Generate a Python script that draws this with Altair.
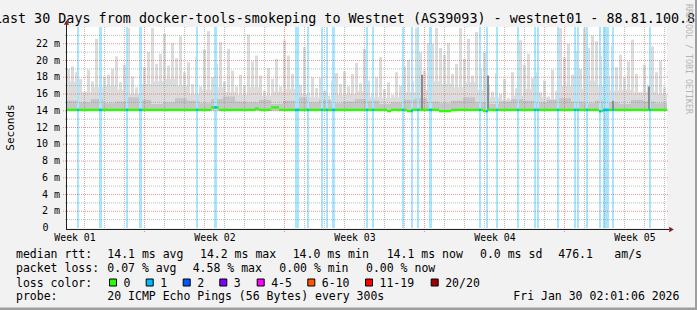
import altair as alt
import pandas as pd

# ---------------- data ----------------
# upper edge of the smoke (ms), one value per 0.2 day, 30 days
smoke_max = [
    19.0, 19.3, 18.6, 17.8, 16.3, 18.9, 17.5, 22.6, 18.2, 18.0,
    18.3, 19.0, 20.5, 17.4, 19.5, 23.9, 18.1, 16.8, 23.8, 19.2,
    21.0, 23.9, 19.6, 20.8, 23.2, 19.4, 22.1, 20.3, 22.9, 18.6,
    19.8, 17.2, 20.4, 16.9, 21.3, 23.5, 18.0, 19.6, 22.2, 17.5,
    21.4, 18.8, 16.9, 18.3, 17.0, 23.1, 19.9, 20.6, 18.2, 16.4,
    19.1, 17.8, 20.2, 16.9, 22.4, 20.6, 18.4, 19.9, 17.1, 21.6,
    16.2, 18.0, 16.7, 17.9, 16.4, 15.8, 17.6, 18.5, 17.2, 18.7,
    16.9, 18.4, 19.7, 17.3, 21.4, 17.6, 16.1, 18.0, 20.4, 16.6,
    17.4, 15.9, 18.6, 17.0, 19.3, 20.1, 17.5, 23.9, 21.0, 18.8,
    22.1, 22.0, 23.9, 21.5, 20.7, 22.1, 18.4, 19.6, 23.9, 20.2,
    22.6, 18.2, 23.4, 19.0, 20.9, 17.1, 16.3, 18.5, 16.0, 17.8,
    15.5, 18.6, 16.7, 22.4, 19.5, 20.8, 17.9, 18.6, 16.2, 17.6,
    15.7, 18.9, 16.4, 23.9, 20.4, 22.0, 18.3, 21.2, 19.0, 23.9,
    21.5, 23.0, 22.3, 20.5, 19.4, 18.1, 21.8, 19.2, 20.7, 17.9,
    19.9, 22.5, 18.4, 16.2, 19.5, 17.0, 21.7, 18.6, 20.0, 16.8,
]
# continuous lower body of the smoke (ms), one value per 0.6 day
smoke_base = [
    17.5, 16.2, 16.8, 17.0, 16.5, 16.0, 17.2, 17.5, 17.8, 17.0,
    16.0, 16.5, 16.8, 16.2, 15.9, 16.8, 15.8, 16.3, 16.6, 16.0,
    15.6, 15.4, 15.9, 16.0, 16.3, 15.6, 15.5, 15.6, 16.2, 16.5,
    17.5, 17.2, 16.8, 17.4, 16.5, 15.6, 15.3, 15.8, 16.6, 15.6,
    15.4, 17.0, 16.6, 17.6, 17.0, 16.4, 16.5, 16.2, 16.3, 16.0,
]
# denser (darker) part of the smoke, one value per 0.6 day
smoke_mid = [
    15.2, 15.0, 15.4, 14.9, 15.1, 15.6, 15.3, 14.8, 15.0, 15.5,
    15.2, 14.9, 15.4, 15.7, 15.1, 15.0, 15.3, 14.8, 15.2, 15.6,
    15.0, 15.3, 14.9, 15.1, 15.4, 15.2, 14.8, 15.0, 15.3, 15.5,
    15.1, 14.9, 15.2, 15.6, 15.0, 14.8, 15.1, 15.4, 15.2, 15.0,
    15.3, 15.5, 15.1, 14.9, 15.2, 15.0, 14.8, 15.3, 15.1, 14.9,
]
# median rtt (ms), one value per 0.2 day
median_rtt = [
    14.1, 14.1, 14.1, 14.1, 14.1, 14.1, 14.1, 14.1, 14.1, 14.1,
    14.1, 14.1, 14.1, 14.1, 14.1, 14.1, 14.1, 14.1, 14.1, 14.1,
    14.1, 14.1, 14.1, 14.1, 14.1, 14.1, 14.1, 14.1, 14.1, 14.1,
    14.1, 14.1, 14.1, 14.1, 14.1, 14.1, 14.4, 14.4, 14.1, 14.1,
    14.1, 14.1, 14.1, 14.1, 14.1, 14.1, 14.1, 14.25, 14.1, 14.1,
    14.1, 14.4, 14.4, 14.1, 14.1, 14.1, 14.1, 14.1, 14.1, 14.1,
    14.1, 14.1, 14.1, 14.1, 14.1, 14.1, 14.1, 14.1, 14.1, 14.1,
    14.1, 14.1, 14.1, 14.1, 14.1, 14.1, 14.1, 14.1, 14.1, 14.1,
    13.95, 14.1, 14.1, 14.1, 14.1, 13.95, 14.1, 14.1, 14.1, 14.1,
    14.1, 14.1, 14.1, 13.95, 13.95, 13.95, 14.1, 14.1, 14.1, 14.1,
    14.1, 14.1, 14.1, 14.1, 13.95, 14.1, 14.1, 14.1, 14.1, 14.1,
    14.1, 14.1, 14.1, 14.1, 14.1, 14.1, 14.1, 14.1, 14.1, 14.1,
    14.1, 14.1, 14.1, 14.1, 14.1, 14.1, 14.1, 14.1, 14.1, 14.1,
    14.1, 14.1, 14.1, 13.95, 14.1, 14.1, 14.1, 14.1, 14.1, 14.1,
    14.1, 14.1, 14.1, 14.1, 14.1, 14.1, 14.1, 14.1, 14.1, 14.1,
]
min_rtt = 14.0
# packet-loss events (1 of 20 lost): start day and duration (days)
loss_start = [0.50, 1.60, 2.95, 3.60, 6.45, 7.35, 11.40, 12.00, 12.70, 12.95,
              13.25, 14.95, 15.25, 16.75, 17.20, 17.50, 18.10, 20.60, 20.95, 21.45,
              22.50, 23.35, 23.50, 24.50, 25.35, 25.50, 25.95, 26.60, 26.80, 27.25,
              29.10]
loss_len = [0.10, 0.15, 0.10, 0.15, 0.10, 0.15, 0.20, 0.10, 0.10, 0.10,
            0.15, 0.10, 0.10, 0.10, 0.10, 0.10, 0.15, 0.10, 0.10, 0.10,
            0.10, 0.10, 0.10, 0.10, 0.10, 0.10, 0.10, 0.10, 0.30, 0.10,
            0.10]
# isolated dark smoke spikes
dark_start = [17.70, 21.00, 27.25, 29.05]
dark_len = [0.10, 0.10, 0.10, 0.10]
dark_top = [18.3, 18.2, 15.2, 16.9]

week_labels = ["Week 01", "Week 02", "Week 03", "Week 04", "Week 05"]
week_pos = [0.4, 7.4, 14.4, 21.4, 28.4]
week_start = [3.85, 10.85, 17.85, 24.85]
day_lines = [0.85, 1.85, 2.85, 4.85, 5.85, 6.85, 7.85, 8.85, 9.85, 11.85,
             12.85, 13.85, 14.85, 15.85, 16.85, 18.85, 19.85, 20.85, 21.85,
             22.85, 23.85, 25.85, 26.85, 27.85, 28.85, 29.85]
y_major = [2, 4, 6, 8, 10, 12, 14, 16, 18, 20, 22]
y_minor = [1, 3, 5, 7, 9, 11, 13, 15, 17, 19, 21, 23]

loss_names = ["0", "1", "2", "3", "4-5", "6-10", "11-19", "20/20"]
loss_colors = ["#26ff00", "#00b8ff", "#0059ff", "#7e00ff", "#ff00ff",
               "#ff5500", "#ff0000", "#a10000"]

title = "Last 30 Days from docker-tools-smokeping to Westnet (AS39093) - westnet01 - 88.81.100.88"
rtt_stats = ["14.1 ms avg", "14.2 ms max", "14.0 ms min", "14.1 ms now", "0.0 ms sd", "476.1", "am/s"]
loss_stats = ["0.07 % avg", "4.58 % max", "0.00 % min", "0.00 % now"]
probe_text = "20 ICMP Echo Pings (56 Bytes) every 300s"
stamp = "Fri Jan 30 02:01:06 2026"

# ---------------- layout ----------------
OX, OY = 67, 27          # plot origin in the 697x310 image
PW, PH = 600, 201
MONO = "DejaVu Sans Mono"
X = alt.Scale(domain=[0, 30], nice=False, zero=False)
Y = alt.Scale(domain=[0, 24], nice=False, zero=False)

n = len(smoke_max)
bw = 30 / n
smoke = pd.DataFrame({
    "d0": [i * bw for i in range(n)],
    "d1": [i * bw + bw * 0.75 for i in range(n)],
    "e1": [(i + 1) * bw for i in range(n)],
    "lo": [min_rtt] * n,
    "hi": smoke_max,
    "mlo": [v - 0.14 for v in median_rtt],
    "mhi": [v + 0.14 for v in median_rtt],
})


def coarse(vals):
    k = len(vals)
    w = 30 / k
    return pd.DataFrame({
        "d0": [i * w for i in range(k)],
        "d1": [(i + 1) * w for i in range(k)],
        "lo": [min_rtt] * k,
        "hi": vals,
    })


base = coarse(smoke_base)
mid = coarse(smoke_mid)
loss = pd.DataFrame({
    "d0": loss_start,
    "d1": [s + l for s, l in zip(loss_start, loss_len)],
})
loss["med"] = [median_rtt[min(int(s / bw), n - 1)] for s in loss_start]
loss["mlo"] = loss["med"] - 0.14
loss["mhi"] = loss["med"] + 0.14
dark = pd.DataFrame({
    "d0": dark_start,
    "d1": [s + l for s, l in zip(dark_start, dark_len)],
    "lo": [min_rtt] * len(dark_start),
    "hi": dark_top,
})


def rects(df, color, ylo="lo", yhi="hi", x2="d1"):
    return alt.Chart(df).mark_rect(color=color).encode(
        x=alt.X("d0:Q", scale=X, axis=None), x2=f"{x2}:Q",
        y=alt.Y(f"{ylo}:Q", scale=Y, axis=None), y2=f"{yhi}:Q")


layers = []
layers.append(rects(smoke, "#dcdcdc"))
layers.append(rects(base, "#dcdcdc"))
layers.append(rects(mid, "#c6c6c6"))
layers.append(alt.Chart(loss).mark_rect(color="#a6e6ff").encode(
    x=alt.X("d0:Q", scale=X, axis=None), x2="d1:Q",
    y=alt.value(0), y2=alt.value(PH)))
layers.append(rects(dark, "#8c8c8c"))

# grid
GRID = "#8f8f8f"
MGRID = "#de5050"
layers.append(alt.Chart(pd.DataFrame({"v": y_minor})).mark_rule(
    color=GRID, opacity=0.6, strokeDash=[1, 1], strokeWidth=1).encode(
    y=alt.Y("v:Q", scale=Y, axis=None), x=alt.value(-2), x2=alt.value(PW)))
layers.append(alt.Chart(pd.DataFrame({"v": day_lines})).mark_rule(
    color=GRID, opacity=0.6, strokeDash=[1, 1], strokeWidth=1, xOffset=0.5).encode(
    x=alt.X("v:Q", scale=X, axis=None), y=alt.value(0), y2=alt.value(PH + 2)))
layers.append(alt.Chart(pd.DataFrame({"v": y_major})).mark_rule(
    color=MGRID, opacity=0.6, strokeDash=[1, 1], strokeWidth=1).encode(
    y=alt.Y("v:Q", scale=Y, axis=None), x=alt.value(-4), x2=alt.value(PW + 2)))
layers.append(alt.Chart(pd.DataFrame({"v": week_start})).mark_rule(
    color=MGRID, opacity=0.6, strokeDash=[1, 1], strokeWidth=1, xOffset=0.5).encode(
    x=alt.X("v:Q", scale=X, axis=None), y=alt.value(0), y2=alt.value(PH + 4)))

# median line coloured by loss
layers.append(rects(smoke, loss_colors[0], "mlo", "mhi", x2="e1"))
layers.append(rects(loss, loss_colors[1], "mlo", "mhi"))

# axes
one = pd.DataFrame({"a": [0]})
AX = "#1f1f1f"
layers.append(alt.Chart(one).mark_rule(color=AX, strokeWidth=1).encode(
    x=alt.value(-0.5), y=alt.value(-4), y2=alt.value(PH + 1)))
layers.append(alt.Chart(one).mark_rule(color=AX, strokeWidth=1).encode(
    x=alt.value(-1), x2=alt.value(PW + 2), y=alt.value(PH + 1.5)))
layers.append(alt.Chart(one).mark_point(shape="triangle-up", filled=True, size=28,
                                         color="#801f1f", opacity=1).encode(
    x=alt.value(-0.5), y=alt.value(-4.5)))
layers.append(alt.Chart(one).mark_point(shape="triangle-right", filled=True, size=28,
                                         color="#801f1f", opacity=1).encode(
    x=alt.value(PW + 4.5), y=alt.value(PH + 1.5)))

# y tick labels
ylab = pd.DataFrame({"v": y_major, "t": [f"{v} m" for v in y_major]})
layers.append(alt.Chart(ylab).mark_text(align="right", baseline="middle", font=MONO,
                                        fontSize=10, color="#000").encode(
    y=alt.Y("v:Q", scale=Y, axis=None), x=alt.value(60 - OX), text="t:N"))
layers.append(alt.Chart(pd.DataFrame({"v": [0], "t": ["0"]})).mark_text(
    align="right", baseline="middle", font=MONO, fontSize=10, color="#000").encode(
    y=alt.Y("v:Q", scale=Y, axis=None), x=alt.value(48.5 - OX), text="t:N"))
# week labels
layers.append(alt.Chart(pd.DataFrame({"d": week_pos, "t": week_labels})).mark_text(
    align="center", baseline="alphabetic", font=MONO, fontSize=9.8, color="#000").encode(
    x=alt.X("d:Q", scale=X, axis=None), y=alt.value(240.5 - OY), text="t:N"))


def label(s, x, y, size=11.5, align="left", baseline="alphabetic", color="#000", angle=None):
    kw = dict(align=align, baseline=baseline, fontSize=size, font=MONO, color=color)
    if angle is not None:
        kw["angle"] = angle
    return alt.Chart(pd.DataFrame({"t": [s]})).mark_text(**kw).encode(
        x=alt.value(x - OX), y=alt.value(y - OY), text="t:N")


layers.append(label(title, 348.5, 23, size=13.4, align="center"))
layers.append(label("Seconds", 10.5, 127.5, size=11, align="center", baseline="middle", angle=270))
layers.append(label("RRDTOOL / TOBI OETIKER", 688, 59, size=8.3, align="center",
                    baseline="middle", color="#b4b4b4", angle=90))

# legend rows
layers.append(label("median rtt:", 16, 258))
for s, xp in zip(rtt_stats, [107.3, 200, 292.7, 386.7, 480, 558.3, 614.3]):
    layers.append(label(s, xp, 258))
layers.append(label("packet loss:", 16, 272))
for s, xp in zip(loss_stats, [107.3, 192.7, 279.3, 366]):
    layers.append(label(s, xp, 272))
layers.append(label("loss color:", 16, 286.5))
box_x = [109, 145.7, 182.7, 219.3, 256.7, 307.3, 365, 430.7]
boxes = pd.DataFrame({
    "x0": [b - OX + 0.5 for b in box_x],
    "x1": [b - OX + 7.5 for b in box_x],
    "c": loss_colors,
    "t": loss_names,
})
layers.append(alt.Chart(boxes).mark_rect(stroke="#000", strokeWidth=1).encode(
    x=alt.X("x0:Q", scale=None), x2="x1:Q",
    y=alt.value(279 - OY), y2=alt.value(286 - OY),
    color=alt.Color("c:N", scale=None, legend=None)))
for t, b in zip(loss_names, box_x):
    layers.append(label(t, b + 14.5, 286.5))
layers.append(label("probe:", 16, 300))
layers.append(label(probe_text, 107.3, 300))
layers.append(label(stamp, 513.3, 300))

# frame shading (right / bottom)
layers.append(alt.Chart(one).mark_rect(color="#9e9e9e").encode(
    x=alt.value(695 - OX), x2=alt.value(697 - OX), y=alt.value(-OY), y2=alt.value(310 - OY)))
layers.append(alt.Chart(one).mark_rect(color="#9e9e9e").encode(
    x=alt.value(-OX), x2=alt.value(697 - OX), y=alt.value(307.5 - OY), y2=alt.value(310 - OY)))

chart = alt.layer(*layers).properties(
    width=PW, height=PH,
    padding={"left": OX, "top": OY, "right": 697 - OX - PW, "bottom": 310 - OY - PH},
    autosize=alt.AutoSizeParams(type="none"),
).configure(background="#f2f2f2").configure_view(stroke=None, fill="white")

chart.save("out.html", embed_options={"renderer": "svg", "actions": False})
